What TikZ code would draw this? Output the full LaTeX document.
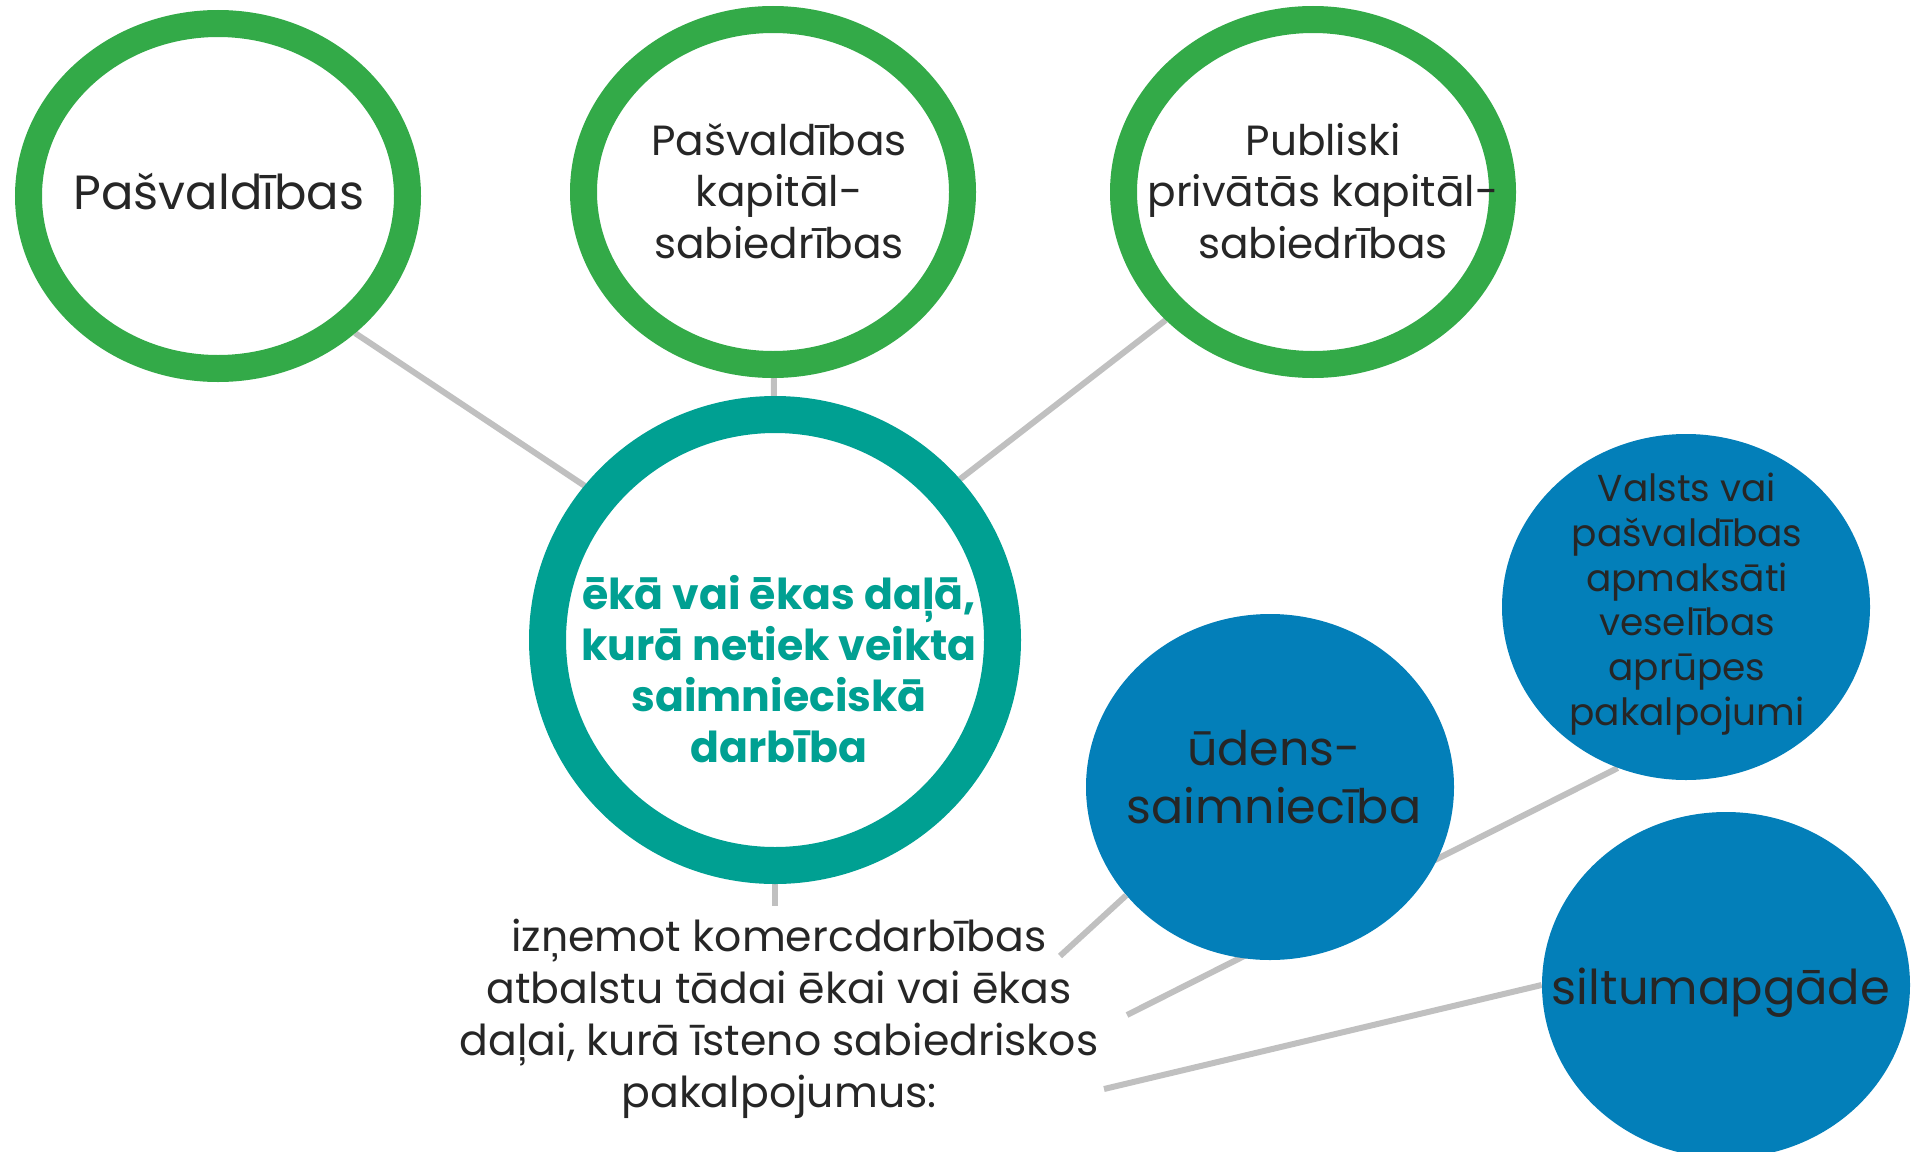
\documentclass[tikz,border=0pt]{standalone}
\usepackage{fontspec}
\setmainfont{Poppins}
\usetikzlibrary{shapes.geometric,backgrounds}
\definecolor{ringgreen}{RGB}{51,170,72}
\definecolor{ringteal}{RGB}{0,160,146}
\definecolor{dotblue}{RGB}{3,127,185}
\definecolor{linkgray}{RGB}{192,192,192}
\definecolor{ink}{RGB}{38,38,38}
\begin{document}
\begin{tikzpicture}[x=0.5pt,y=-0.5pt,
ring/.style={ellipse,draw=ringgreen,fill=white,line width=13.5pt,minimum width=189.5pt,minimum height=172.5pt,inner sep=0pt},
hub/.style={ellipse,draw=ringteal,fill=white,line width=18.5pt,minimum width=227.5pt,minimum height=225.5pt,inner sep=0pt},
dot/.style={ellipse,fill=dotblue,minimum width=184pt,minimum height=173pt,inner sep=0pt},
txt/.style={text=ink,align=center,inner sep=0pt},
link/.style={draw=linkgray,line width=3pt}]
\useasboundingbox(0,0)rectangle(1921,1151);
\node[ring](c1)at(218,196){};
\node[ring](c2)at(773,192){};
\node[ring](c3)at(1313,192){};
\node[hub](hub)at(775,640){};
\node[dot](uden)at(1270,787){};
\node[dot](valsts)at(1686,607){};
\node[dot](silt)at(1726,985){};
\node[txt,font=\fontsize{24}{30}\selectfont](c1t)at(219,192){Pašvaldības};
\node[txt,font=\fontsize{21.1}{25.75}\selectfont](c2t)at(779,191){Pašvaldības\\kapitāl-\\sabiedrības};
\node[txt,font=\fontsize{21.1}{25.75}\selectfont](c3t)at(1323,191){Publiski\\privātās kapitāl-\\sabiedrības};
\node[txt,text=ringteal,font=\fontsize{21.3}{25.5}\bfseries](hubt)at(779,669){ēkā vai ēkas daļā,\\kurā netiek veikta\\saimnieciskā\\darbība};
\node[txt,font=\fontsize{23.8}{28.75}\selectfont](udent)at(1274,777){ūdens-\\saimniecība};
\node[txt,font=\fontsize{18.75}{22.35}\selectfont](valstst)at(1687,604){Valsts vai\\pašvaldības\\apmaksāti\\veselības\\aprūpes\\pakalpojumi};
\node[txt,font=\fontsize{24}{30}\selectfont](siltt)at(1721,993){siltumapgāde};
\node[txt,font=\fontsize{21.3}{26}\selectfont](note)at(779,1019){izņemot komercdarbības\\atbalstu tādai ēkai vai ēkas\\daļai, kurā īsteno sabiedriskos\\pakalpojumus:};
\coordinate(tail)at(775,906);
\coordinate(a1)at(1060,956);
\coordinate(a2)at(1127,1015);
\coordinate(a3)at(1104,1089);
\begin{scope}[on background layer]
\draw[link](c1.-45)--(hub.141);
\draw[link](c2)--(hub);
\draw[link](c3.221)--(hub.41);
\draw[link](hub.south)--(tail);
\draw[link](a1)--(uden.217);
\draw[link](a2)--(valsts.247);
\draw[link](a3)--(silt.west);
\end{scope}
\end{tikzpicture}
\end{document}
